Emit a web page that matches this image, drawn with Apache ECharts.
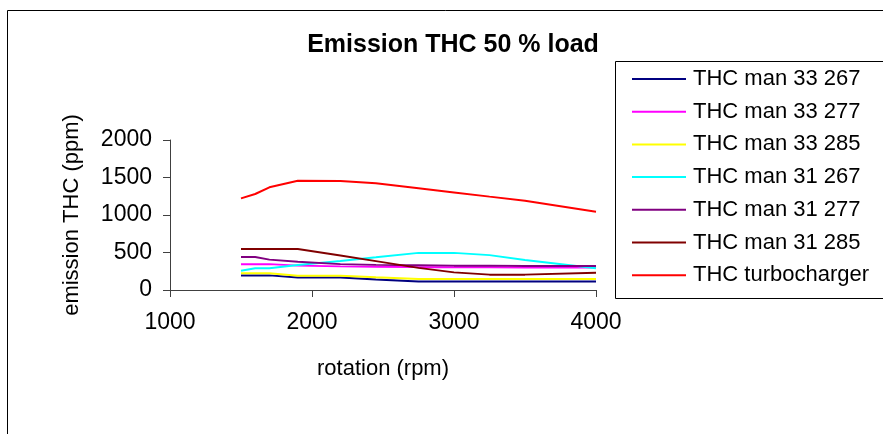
<!DOCTYPE html>
<html>
<head>
<meta charset="utf-8">
<script src="https://cdn.jsdelivr.net/npm/echarts@6/dist/echarts.min.js"></script>
<style>
  html, body { margin: 0; padding: 0; background: #fff; }
  #chart { width: 883px; height: 434px; }
</style>
</head>
<body>
<div id="chart"></div>
<script>
// rotation (rpm) sample points
const rpm = [1500, 1600, 1700, 1900, 2200, 2450, 2750, 3000, 3250, 3500, 4000];

// emission THC (ppm) per series
const man33_267 = [195, 195, 195, 168, 168, 140, 112, 112, 112, 112, 112];
const man33_277 = [345, 345, 345, 325, 315, 310, 305, 305, 303, 300, 300];
const man33_285 = [222, 222, 222, 190, 190, 170, 148, 148, 148, 148, 148];
const man31_267 = [258, 289, 289, 333, 387, 436, 495, 495, 465, 400, 290];
const man31_277 = [440, 440, 405, 378, 345, 335, 330, 325, 325, 320, 320];
const man31_285 = [547, 547, 547, 547, 460, 385, 295, 235, 205, 205, 230];
const turbo = [1222, 1280, 1369, 1457, 1453, 1422, 1356, 1301, 1245, 1191, 1044];

const seriesNames = ['THC man 33 267', 'THC man 33 277', 'THC man 33 285',
  'THC man 31 267', 'THC man 31 277', 'THC man 31 285', 'THC turbocharger'];
const seriesData = [man33_267, man33_277, man33_285, man31_267, man31_277, man31_285, turbo];
const seriesColors = ['#000080', '#ff00ff', '#ffff00', '#00ffff', '#800080', '#800000', '#ff0000'];

const font = 'Liberation Sans, Arial, sans-serif';

let chart = echarts.init(document.getElementById('chart'));
let option = {
  backgroundColor: '#fff',
  animation: false,
  title: {
    text: 'Emission THC 50 % load',
    left: 448,
    top: 28,
    textAlign: 'center',
    textStyle: { fontFamily: font, fontSize: 25, fontWeight: 'bold', color: '#000' }
  },
  graphic: [{
    // outer chart border
    type: 'rect',
    shape: { x: 7.5, y: 10.5, width: 900, height: 500 },
    style: { fill: 'none', stroke: '#000', lineWidth: 1 },
    silent: true
  }, {
    // legend box, runs off the right edge
    type: 'rect',
    shape: { x: 615.5, y: 61.5, width: 300, height: 237 },
    style: { fill: 'none', stroke: '#000', lineWidth: 1 },
    silent: true
  }],
  legend: {
    orient: 'vertical',
    left: 615,
    top: 61,
    data: seriesNames,
    icon: 'rect',
    itemWidth: 54,
    itemHeight: 2,
    itemGap: 10.7,
    padding: [7, 0, 11, 17],
    textStyle: { fontFamily: font, fontSize: 22, color: '#000', lineHeight: 22, padding: [0, 0, 0, 2] }
  },
  grid: { left: 170, top: 140, width: 426, height: 150 },
  xAxis: {
    type: 'value',
    min: 1000,
    max: 4000,
    interval: 1000,
    name: 'rotation (rpm)',
    nameLocation: 'middle',
    nameGap: 68,
    nameTextStyle: { fontFamily: font, fontSize: 22, color: '#000' },
    axisLine: { lineStyle: { color: '#404040', width: 1 } },
    axisTick: { show: true, length: 7, lineStyle: { color: '#404040' } },
    axisLabel: { fontFamily: font, fontSize: 23, color: '#000', margin: 21, formatter: v => String(v) },
    splitLine: { show: false }
  },
  yAxis: {
    type: 'value',
    min: 0,
    max: 2000,
    interval: 500,
    name: 'emission THC (ppm)',
    nameLocation: 'middle',
    nameGap: 87,
    nameTextStyle: { fontFamily: font, fontSize: 22, color: '#000' },
    axisLine: { show: true, lineStyle: { color: '#404040', width: 1 } },
    axisTick: { show: true, length: 7, lineStyle: { color: '#404040' } },
    axisLabel: { fontFamily: font, fontSize: 23, color: '#000', margin: 18, formatter: v => String(v) },
    splitLine: { show: false }
  },
  series: seriesNames.map((name, i) => ({
    name: name,
    type: 'line',
    symbol: 'none',
    color: seriesColors[i],
    lineStyle: { color: seriesColors[i], width: 2 },
    data: rpm.map((r, j) => [r, seriesData[i][j]])
  }))
};
chart.setOption(option);
</script>
</body>
</html>
